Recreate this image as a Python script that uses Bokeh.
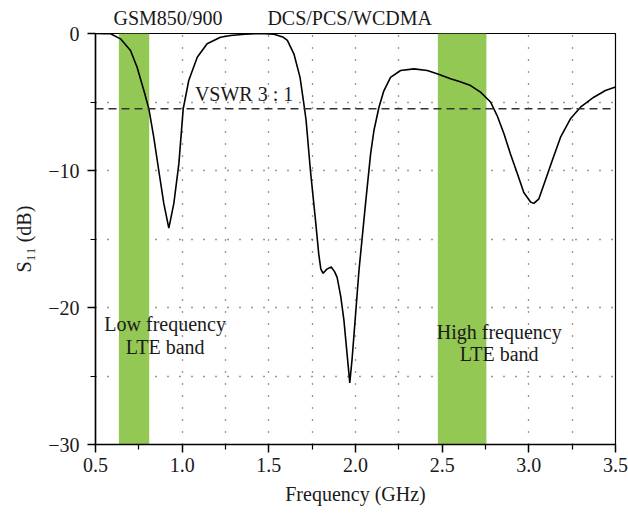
from bokeh.plotting import figure
from bokeh.models import BoxAnnotation, Span, Label, FixedTicker, Range1d, Title
from bokeh.embed import file_html
from bokeh.resources import INLINE

# ---- data ----
freq = [0.50, 0.55, 0.587, 0.644, 0.702, 0.74, 0.779, 0.808, 0.836, 0.865, 0.894, 0.923,
        0.952, 0.981, 1.006, 1.038, 1.087, 1.144, 1.221, 1.279, 1.36, 1.45, 1.53, 1.58,
        1.607, 1.645, 1.68, 1.705, 1.715, 1.74, 1.769, 1.788, 1.80, 1.813, 1.835, 1.86,
        1.88, 1.894, 1.915, 1.933, 1.95, 1.967, 1.98, 1.99, 2.02, 2.058, 2.087, 2.106,
        2.135, 2.163, 2.202, 2.26, 2.337, 2.414, 2.475, 2.548, 2.60, 2.664, 2.721, 2.779,
        2.817, 2.856, 2.894, 2.933, 2.971, 3.01, 3.029, 3.058, 3.096, 3.135, 3.183, 3.24,
        3.298, 3.375, 3.442, 3.50]
s11 = [0.0, -0.01, -0.02, -0.39, -1.24, -2.46, -4.16, -5.5, -7.57, -10.0, -12.4, -14.2,
       -12.4, -9.5, -5.5, -3.43, -1.73, -0.75, -0.27, -0.15, -0.05, 0.0, -0.05, -0.25,
       -0.5, -1.5, -3.2, -5.4, -6.35, -10.0, -13.6, -16.1, -17.2, -17.5, -17.2, -17.05,
       -17.4, -17.8, -19.2, -20.9, -23.2, -25.5, -23.8, -22.2, -17.3, -12.4, -8.8, -7.1,
       -5.4, -4.2, -3.2, -2.7, -2.58, -2.7, -2.95, -3.3, -3.5, -3.8, -4.28, -5.0,
       -5.99, -7.3, -8.8, -10.2, -11.6, -12.3, -12.4, -12.07, -10.7, -9.27, -7.57, -6.23,
       -5.38, -4.65, -4.16, -3.9]

low_band = (0.635, 0.81)
high_band = (2.475, 2.755)
vswr_level = -5.5

x_major = [0.5, 1.0, 1.5, 2.0, 2.5, 3.0, 3.5]
x_minor = [0.75, 1.25, 1.75, 2.25, 2.75, 3.25]
x_labels = ["0.5", "1.0", "1.5", "2.0", "2.5", "3.0", "3.5"]
y_major = [-30, -20, -10, 0]
y_minor = [-25, -15, -5]
y_labels = ["\u221230", "\u221220", "\u221210", "0"]
top_labels = ["GSM850/900", "DCS/PCS/WCDMA"]

FONT = "Liberation Serif"
FS = "20px"
GREEN = "#92C853"
INK = "#1a1a1a"

p = figure(width=628, height=515, output_backend="svg", toolbar_location=None,
           x_range=Range1d(0.5, 3.5), y_range=Range1d(-30, 0),
           min_border_left=95, min_border_right=13, min_border_top=33, min_border_bottom=71)
p.background_fill_color = "white"
p.border_fill_color = "white"
p.outline_line_color = "black"
p.outline_line_width = 1.2

# band labels above the frame (single title line, non-breaking spaces keep the gap)
p.add_layout(Title(text=top_labels[0] + "\u00a0" * 9 + top_labels[1], align="left",
                   offset=18, text_font=FONT, text_font_size=FS, text_font_style="normal",
                   text_color=INK, standoff=9), "above")

# bands
for lo, hi in (low_band, high_band):
    p.add_layout(BoxAnnotation(left=lo, right=hi, fill_color=GREEN, fill_alpha=1.0,
                               line_color=None, level="underlay"))

# axes / ticks
p.xaxis.ticker = FixedTicker(ticks=x_major, minor_ticks=x_minor)
p.yaxis.ticker = FixedTicker(ticks=y_major, minor_ticks=y_minor)
p.xaxis.major_label_overrides = {v: s for v, s in zip(x_major, x_labels)}
p.yaxis.major_label_overrides = {v: s for v, s in zip(y_major, y_labels)}
for ax in (p.xaxis[0], p.yaxis[0]):
    ax.axis_line_color = "black"
    ax.axis_line_width = 1.5
    ax.major_tick_line_color = "black"
    ax.minor_tick_line_color = "black"
    ax.major_tick_line_width = 1.5
    ax.minor_tick_line_width = 1.2
    ax.major_tick_in = 0
    ax.major_tick_out = 8
    ax.minor_tick_in = 0
    ax.minor_tick_out = 5
    ax.major_label_text_font = FONT
    ax.major_label_text_font_size = FS
    ax.major_label_text_color = INK
    ax.axis_label_text_font = FONT
    ax.axis_label_text_font_size = FS
    ax.axis_label_text_font_style = "normal"
    ax.axis_label_text_color = INK
p.xaxis.axis_label = "Frequency (GHz)"
p.yaxis.axis_label = "S\u2081\u2081 (dB)"
p.xaxis.major_label_standoff = 5
p.xaxis.axis_label_standoff = 8
p.yaxis.major_label_standoff = 8
p.yaxis.axis_label_standoff = 10

# grids
for g in (p.xgrid[0], p.ygrid[0]):
    g.grid_line_color = "#333333"
    g.grid_line_dash = "1 11"
    g.grid_line_width = 1.3
    g.minor_grid_line_color = "#333333"
    g.minor_grid_line_dash = "1 11"
    g.minor_grid_line_width = 1.3

# VSWR line
p.add_layout(Span(location=vswr_level, dimension="width", line_color="#333333",
                  line_dash="8 5", line_width=1.5))

# curve
p.line(freq, s11, line_color="black", line_width=1.6)

def lab(x, y, t):
    p.add_layout(Label(x=x, y=y, text=t, text_font=FONT, text_font_size=FS,
                       text_color=INK, text_align="center", text_baseline="middle"))

lab(1.357, -4.4, "VSWR 3 : 1")
lab(0.902, -21.2, "Low frequency")
lab(0.902, -22.9, "LTE band")
lab(2.829, -21.8, "High frequency")
lab(2.829, -23.4, "LTE band")

open("out.html", "w").write(file_html(p, INLINE))
